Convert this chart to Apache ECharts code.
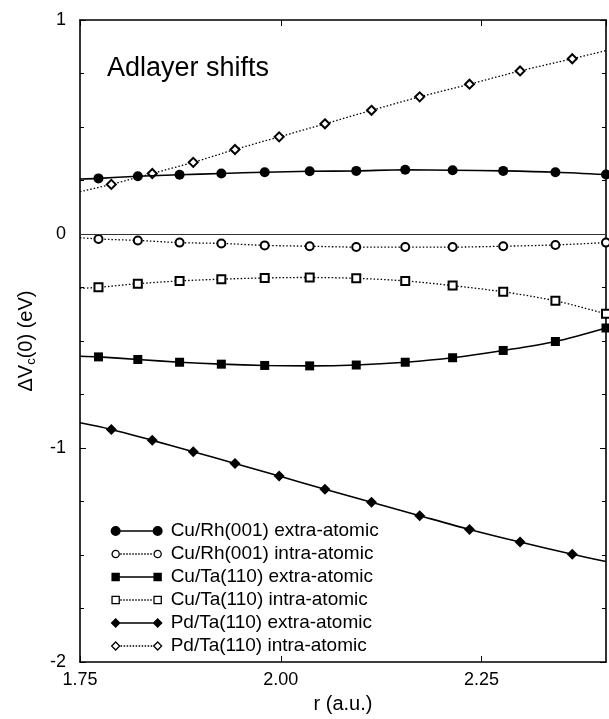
<!DOCTYPE html>
<html>
<head>
<meta charset="utf-8">
<script src="https://cdn.jsdelivr.net/npm/echarts@6/dist/echarts.min.js"></script>
<style>
  html, body { margin: 0; padding: 0; background: #fff; }
  #main { width: 609px; height: 719px; }
</style>
</head>
<body>
<div id="main"></div>
<script>
// 坐标范围
const X_MIN = 1.75;
const X_MAX = 2.405;
const xTicks = [1.75, 2.00, 2.25];
const yTicks = [-2, -1, 0, 1];

// 圆点/方块系列的 r 值
const rCirc = [1.773, 1.822, 1.874, 1.926, 1.980, 2.036, 2.094, 2.155, 2.214, 2.277, 2.342, 2.405];
// 菱形系列的 r 值
const rDiam = [1.789, 1.840, 1.891, 1.943, 1.998, 2.055, 2.113, 2.173, 2.235, 2.298, 2.363];

const cuRhExtra = [0.260, 0.270, 0.277, 0.283, 0.289, 0.293, 0.295, 0.300, 0.298, 0.295, 0.289, 0.278];
const cuRhIntra = [-0.023, -0.030, -0.040, -0.044, -0.053, -0.057, -0.061, -0.061, -0.061, -0.057, -0.051, -0.040];
const cuTaExtra = [-0.574, -0.586, -0.599, -0.608, -0.614, -0.616, -0.612, -0.599, -0.578, -0.544, -0.502, -0.439];
const cuTaIntra = [-0.249, -0.232, -0.219, -0.211, -0.205, -0.203, -0.207, -0.219, -0.241, -0.270, -0.312, -0.373];
const pdTaExtra = [-0.913, -0.964, -1.017, -1.072, -1.131, -1.192, -1.253, -1.316, -1.380, -1.439, -1.496];
const pdTaIntra = [0.232, 0.283, 0.335, 0.395, 0.454, 0.515, 0.578, 0.641, 0.700, 0.762, 0.819];

// 曲线在坐标框边缘处的值（框外无标记）
const edgeLeft = { cuRhExtra: 0.257, cuRhIntra: -0.017, cuTaExtra: -0.571, cuTaIntra: -0.254, pdTaExtra: -0.882, pdTaIntra: 0.198 };
const edgeRight = { pdTaExtra: -1.530, pdTaIntra: 0.857 };

const names = [
    'Cu/Rh(001) extra-atomic',
    'Cu/Rh(001) intra-atomic',
    'Cu/Ta(110) extra-atomic',
    'Cu/Ta(110) intra-atomic',
    'Pd/Ta(110) extra-atomic',
    'Pd/Ta(110) intra-atomic'
];

const FONT = '"Liberation Sans", Arial, Helvetica, sans-serif';

function buildData(rs, vs, key) {
    const data = [];
    if (edgeLeft[key] !== undefined) {
        data.push({ value: [X_MIN, edgeLeft[key]], symbol: 'none' });
    }
    rs.forEach((r, i) => data.push([r, vs[i]]));
    if (edgeRight[key] !== undefined) {
        data.push({ value: [X_MAX, edgeRight[key]], symbol: 'none' });
    }
    return data;
}

// 图例图标：两端各一个标记，中间实线或点线
function dots(x0, x1, y) {
    let s = '';
    for (let x = x0; x < x1 - 1; x += 3) {
        s += ' M' + x + ' ' + y + ' L' + (x + 1.5) + ' ' + y;
    }
    return s;
}
const W = 54, H = 12, M = 6;
const frameBox = ' M0 0 L0 0 M' + W + ' ' + H + ' L' + W + ' ' + H;
function circlePath(cx, cy, r) {
    return 'M' + (cx - r) + ' ' + cy + ' A' + r + ' ' + r + ' 0 1 1 ' + (cx + r) + ' ' + cy +
        ' A' + r + ' ' + r + ' 0 1 1 ' + (cx - r) + ' ' + cy + ' Z';
}
function rectPath(cx, cy, h) {
    return 'M' + (cx - h) + ' ' + (cy - h) + ' L' + (cx + h) + ' ' + (cy - h) + ' L' + (cx + h) + ' ' + (cy + h) +
        ' L' + (cx - h) + ' ' + (cy + h) + ' Z';
}
function diamondPath(cx, cy, h) {
    return 'M' + (cx - h) + ' ' + cy + ' L' + cx + ' ' + (cy - h) + ' L' + (cx + h) + ' ' + cy +
        ' L' + cx + ' ' + (cy + h) + ' Z';
}
const solidBar = ' M' + M + ' ' + (H / 2 - 0.7) + ' L' + (W - M) + ' ' + (H / 2 - 0.7) + ' L' + (W - M) + ' ' + (H / 2 + 0.7) + ' L' + M + ' ' + (H / 2 + 0.7) + ' Z';
function legendIcon(shape, size, filled) {
    const a = shape(M, H / 2, size) + ' ' + shape(W - M, H / 2, size);
    const line = filled ? solidBar : dots(M + size + 1, W - M - size - 1, H / 2);
    return 'path://' + a + line + frameBox;
}
const icons = [
    legendIcon(circlePath, 5, true),
    legendIcon(circlePath, 3.6, false),
    legendIcon(rectPath, 4.2, true),
    legendIcon(rectPath, 3.6, false),
    legendIcon(diamondPath, 5, true),
    legendIcon(diamondPath, 4, false)
];
const filledStyle = { color: '#000', borderWidth: 0 };
const hollowStyle = { color: '#fff', borderColor: '#000', borderWidth: 1.3 };

function lineSeries(name, data, symbol, size, dotted) {
    return {
        name: name,
        type: 'line',
        data: data,
        smooth: 0.3,
        symbol: symbol,
        symbolSize: size,
        showAllSymbol: true,
        z: dotted ? 2 : 3,
        lineStyle: dotted
            ? { color: '#000', width: 1.3, type: [1.5, 2] }
            : { color: '#000', width: 1.6 },
        itemStyle: { color: '#000', borderColor: '#000', borderWidth: dotted ? 1.4 : 0 },
        emphasis: { disabled: true }
    };
}

const chart = echarts.init(document.getElementById('main'));

const yAxisBase = {
    type: 'value',
    min: -2,
    max: 1,
    interval: 1,
    axisLine: { show: true, lineStyle: { color: '#000', width: 1.6 } },
    axisTick: { show: true, inside: true, length: 6, lineStyle: { color: '#000', width: 1 } },
    minorTick: { show: true, splitNumber: 4, length: 4, lineStyle: { color: '#000', width: 1 } },
    splitLine: { show: false }
};
const xAxisBase = {
    type: 'value',
    min: X_MIN,
    max: X_MAX,
    interval: 0.25,
    axisLine: { show: true, onZero: false, lineStyle: { color: '#000', width: 1.6 } },
    axisTick: { show: true, inside: true, length: 6, lineStyle: { color: '#000', width: 1 } },
    splitLine: { show: false }
};

chart.setOption({
    animation: false,
    backgroundColor: '#fff',
    title: {
        text: 'Adlayer shifts',
        left: 102,
        top: 50,
        textStyle: { fontFamily: FONT, fontSize: 27, fontWeight: 'normal', color: '#000' }
    },
    grid: { left: 80, right: 3, top: 20, bottom: 49 },
    legend: {
        orient: 'vertical',
        left: 104,
        top: 516,
        itemWidth: W,
        itemHeight: H,
        itemGap: 3,
        symbolKeepAspect: false,
        selectedMode: false,
        textStyle: { fontFamily: FONT, fontSize: 19, color: '#000', lineHeight: 20, padding: [0, 0, 0, 2] },
        data: names.map((n, i) => ({
            name: n,
            icon: icons[i],
            itemStyle: i % 2 === 0 ? filledStyle : hollowStyle
        }))
    },
    xAxis: [
        Object.assign({}, xAxisBase, {
            position: 'bottom',
            name: 'r (a.u.)',
            nameLocation: 'middle',
            nameGap: 29,
            nameTextStyle: { fontFamily: FONT, fontSize: 20, color: '#000' },
            axisLabel: {
                show: true,
                margin: 9,
                fontFamily: FONT,
                fontSize: 18,
                color: '#000',
                showMaxLabel: false,
                formatter: v => xTicks.some(t => Math.abs(t - v) < 1e-6) ? v.toFixed(2) : ''
            }
        }),
        Object.assign({}, xAxisBase, {
            position: 'top',
            axisLabel: { show: false }
        })
    ],
    yAxis: [
        Object.assign({}, yAxisBase, {
            position: 'left',
            name: '{a|ΔV}{s|c}{a|(0) (eV)}',
            nameLocation: 'middle',
            nameGap: 42,
            nameTextStyle: {
                rich: {
                    a: { fontFamily: FONT, fontSize: 20, color: '#000', lineHeight: 24 },
                    s: { fontFamily: FONT, fontSize: 13, color: '#000', lineHeight: 24, verticalAlign: 'bottom', padding: [8, 0, 0, 0] }
                }
            },
            axisLabel: {
                show: true,
                margin: 14,
                fontFamily: FONT,
                fontSize: 18,
                color: '#000',
                formatter: v => yTicks.indexOf(v) >= 0 ? String(v) : ''
            }
        }),
        Object.assign({}, yAxisBase, {
            position: 'right',
            axisLabel: { show: false }
        })
    ],
    series: [
        Object.assign(lineSeries(names[0], buildData(rCirc, cuRhExtra, 'cuRhExtra'), 'circle', 10, false), {
            markLine: {
                silent: true,
                symbol: 'none',
                label: { show: false },
                lineStyle: { color: '#333', width: 1, type: 'solid' },
                data: [{ yAxis: 0 }]
            }
        }),
        lineSeries(names[1], buildData(rCirc, cuRhIntra, 'cuRhIntra'), 'emptyCircle', 8, true),
        lineSeries(names[2], buildData(rCirc, cuTaExtra, 'cuTaExtra'), 'rect', 9, false),
        lineSeries(names[3], buildData(rCirc, cuTaIntra, 'cuTaIntra'), 'emptyRect', 8, true),
        lineSeries(names[4], buildData(rDiam, pdTaExtra, 'pdTaExtra'), 'diamond', 11, false),
        lineSeries(names[5], buildData(rDiam, pdTaIntra, 'pdTaIntra'), 'emptyDiamond', 9, true)
    ]
});
</script>
</body>
</html>
